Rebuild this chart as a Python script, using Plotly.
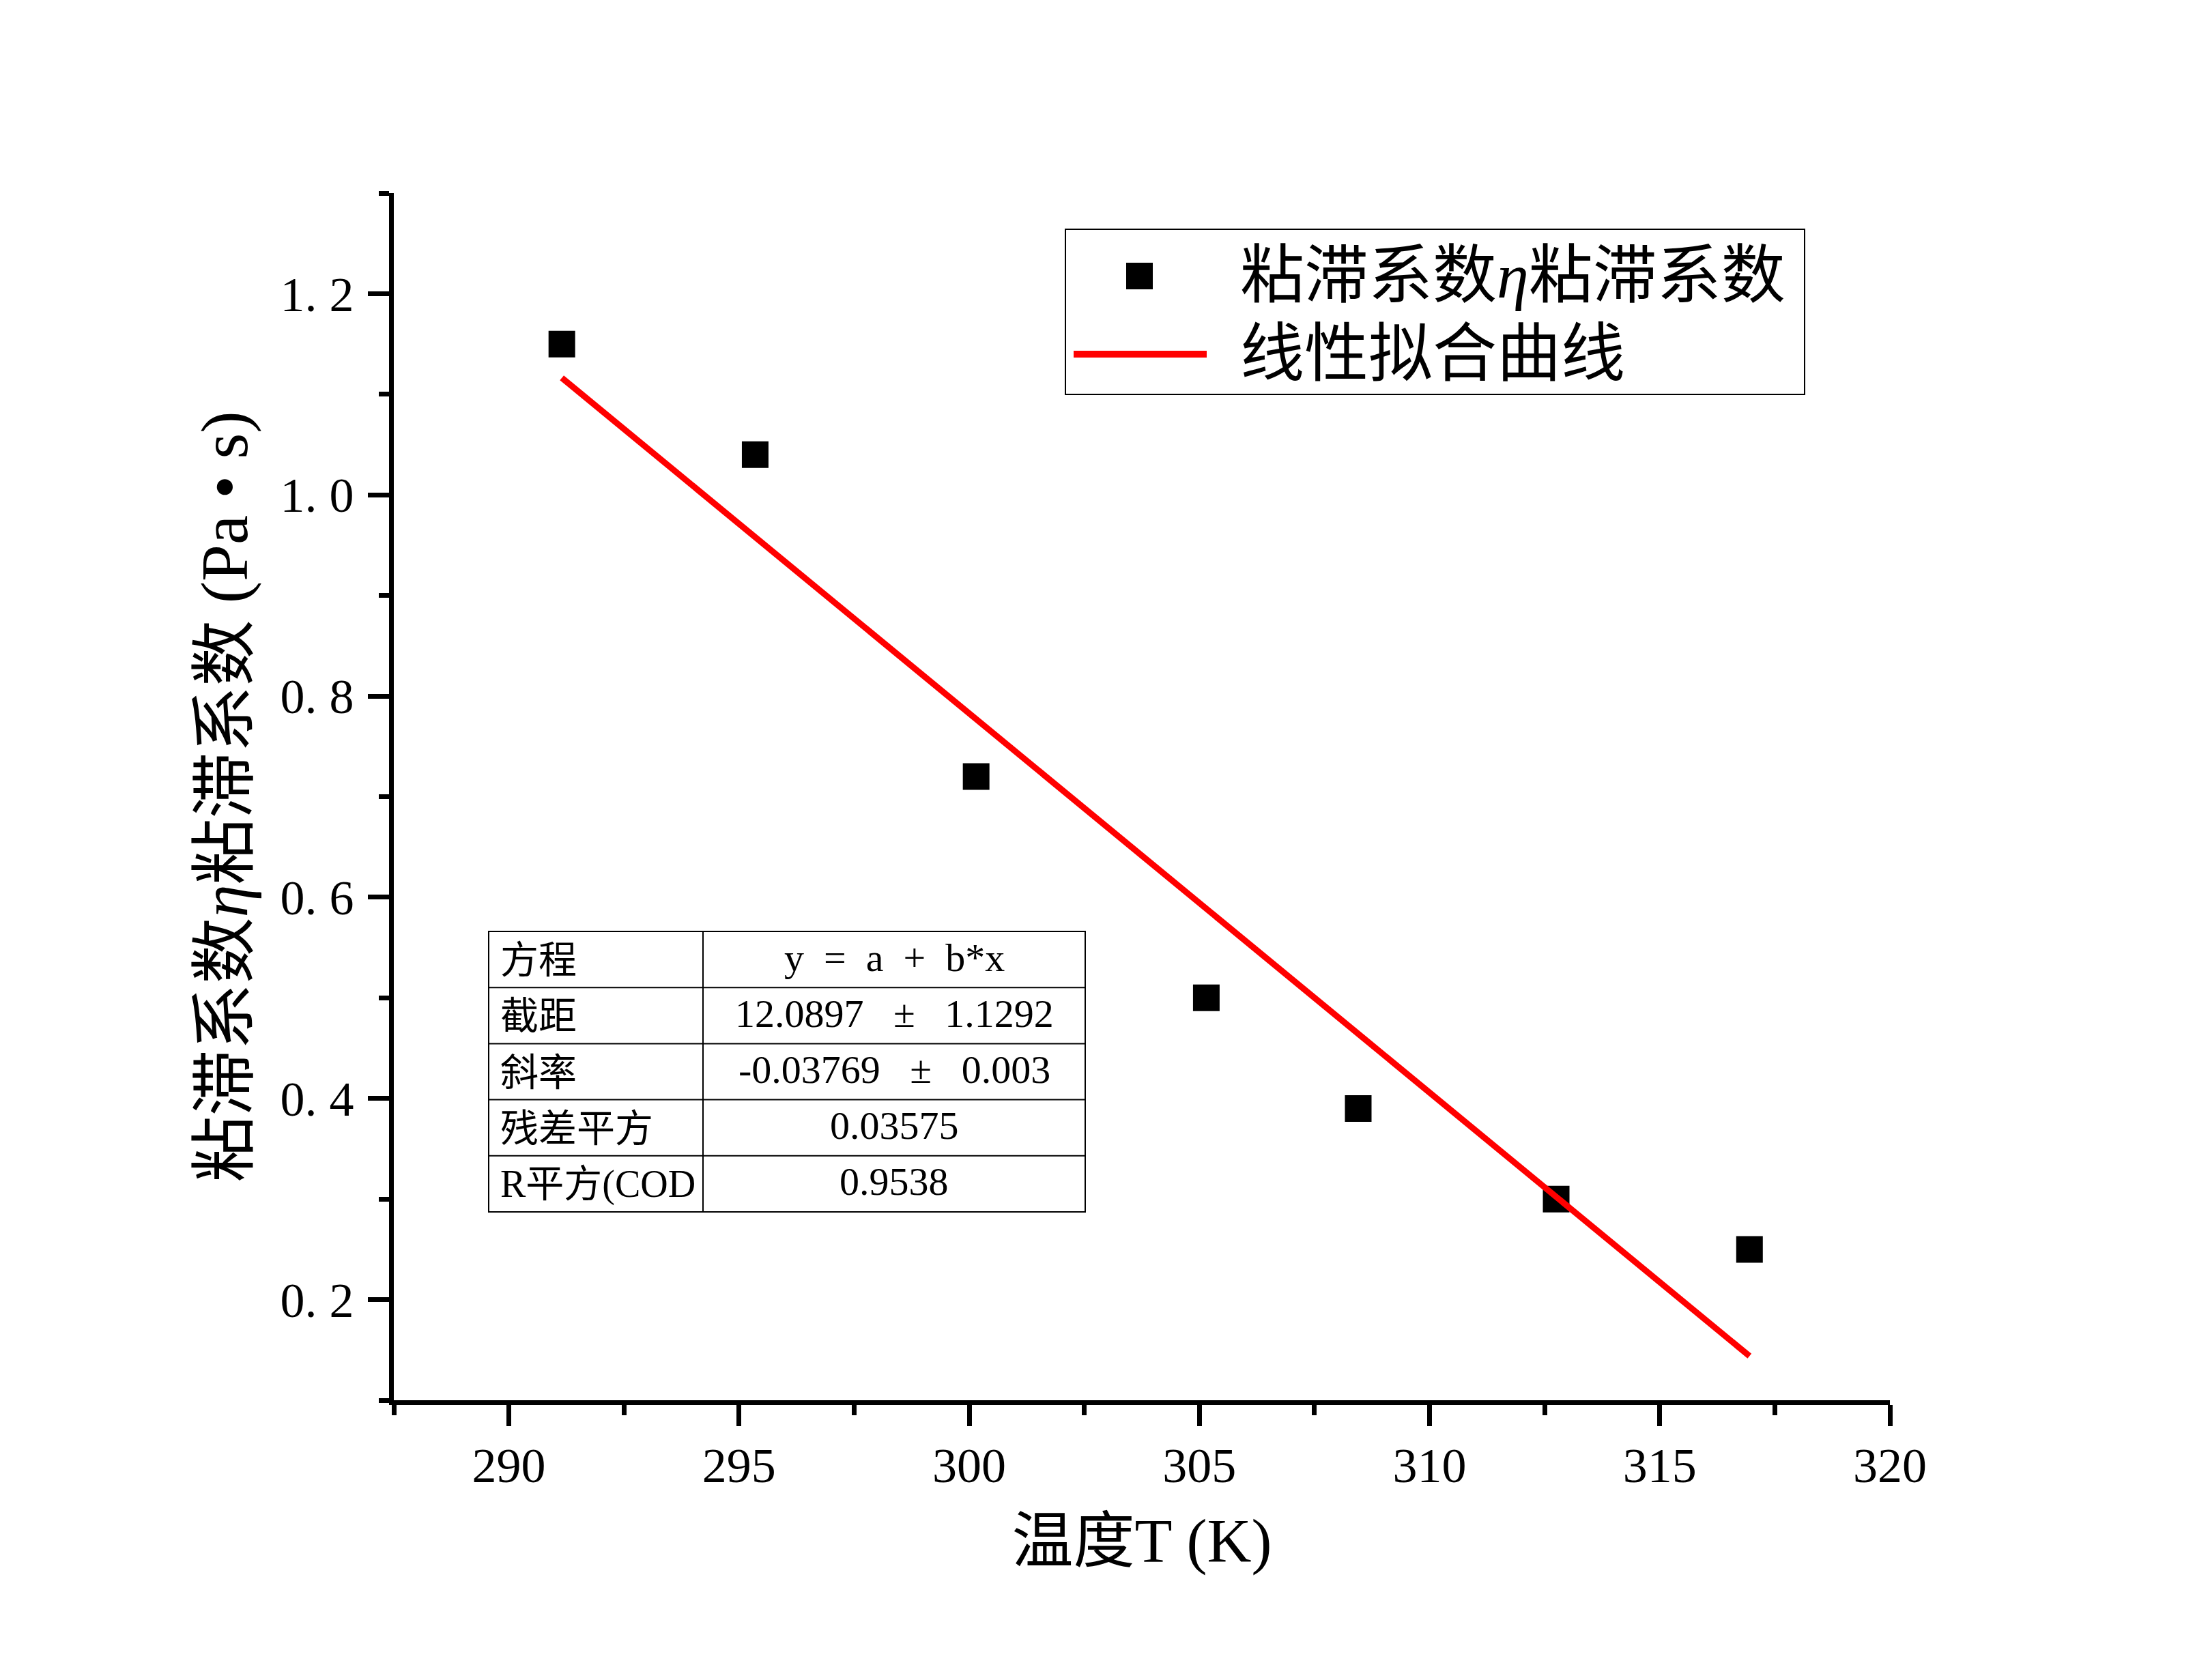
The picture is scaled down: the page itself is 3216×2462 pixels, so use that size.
import plotly.graph_objects as go

# ---------------- data ----------------
temperature_K = [291.15, 295.35, 300.15, 305.15, 308.45, 312.75, 316.95]
viscosity = [1.15, 1.04, 0.72, 0.50, 0.39, 0.30, 0.25]

fit_T = [291.15, 316.95]
fit_eta = [1.1163, 0.1439]

x_tick_vals = [290, 295, 300, 305, 310, 315, 320]
y_tick_vals = [0.2, 0.4, 0.6, 0.8, 1.0, 1.2]
y_tick_text = ["0. 2", "0. 4", "0. 6", "0. 8", "1. 0", "1. 2"]

table_labels = ["方程", "截距", "斜率", "残差平方", "R平方(COD"]
table_values = ["y = a + b*x", "12.0897 ± 1.1292", "-0.03769 ± 0.003", "0.03575", "0.9538"]

legend_labels = ["粘滞系数<i>η</i>粘滞系数", "线性拟合曲线"]
x_title = "温度T (K)"
y_title = "粘滞系数<i>η</i>粘滞系数 (Pa • s)"

# ---------------- layout geometry (pixels) ----------------
W, H = 3216, 2462
L, R, T, B = 577, 447, 283, 410
PW, PH = W - L - R, H - T - B

def px(X):
    return (X - L) / PW

def py(Y):
    return (H - B - Y) / PH

FONT = "Liberation Serif, Noto Sans CJK SC, serif"
NB = "\u00a0"

def spaced(s, n):
    # widen the gaps around operators, as in the original table rendering
    return s.replace(" ", NB * n)

fig = go.Figure()

fig.add_trace(go.Scatter(
    x=temperature_K, y=viscosity, mode="markers",
    marker=dict(symbol="square", size=39, color="black"),
    showlegend=False,
))
fig.add_trace(go.Scatter(
    x=fit_T, y=fit_eta, mode="lines",
    line=dict(color="#ff0000", width=9),
    showlegend=False,
))

axis_common = dict(
    showline=True, linewidth=7, linecolor="black",
    ticks="outside", ticklen=31, tickwidth=7, tickcolor="black",
    showgrid=False, zeroline=False,
    tickfont=dict(family=FONT, size=72, color="black"),
)

fig.update_xaxes(
    range=[287.5, 320], tickmode="array", tickvals=x_tick_vals,
    minor=dict(tickmode="linear", tick0=287.5, dtick=5, ticks="outside",
               ticklen=15, tickwidth=7, tickcolor="black", showgrid=False),
    title=dict(text=x_title, font=dict(family=FONT, size=90, color="black"), standoff=41),
    ticklabelstandoff=-4,
    **axis_common,
)
fig.update_yaxes(
    range=[0.1, 1.3], tickmode="array", tickvals=y_tick_vals, ticktext=y_tick_text,
    minor=dict(tickmode="linear", tick0=0.1, dtick=0.2, ticks="outside",
               ticklen=15, tickwidth=7, tickcolor="black", showgrid=False),
    title=dict(text=y_title, font=dict(family=FONT, size=97, color="black"), standoff=18),
    ticklabelstandoff=6,
    **axis_common,
)

shapes = []
annotations = []

# ---------------- legend (drawn manually) ----------------
shapes += [
    dict(type="rect", xref="paper", yref="paper",
         x0=px(1561), x1=px(2644), y0=py(578), y1=py(336),
         line=dict(color="black", width=2), fillcolor="white", layer="above"),
    dict(type="rect", xref="paper", yref="paper",
         x0=px(1650), x1=px(1689), y0=py(424), y1=py(385),
         line=dict(width=0), fillcolor="black", layer="above"),
    dict(type="line", xref="paper", yref="paper",
         x0=px(1573), x1=px(1768), y0=py(519), y1=py(519),
         line=dict(color="#ff0000", width=10), layer="above"),
]
for label, yc in zip(legend_labels, [404, 519]):
    annotations.append(dict(
        text=label, xref="paper", yref="paper", x=px(1815), y=py(yc),
        xanchor="left", yanchor="middle", showarrow=False,
        font=dict(family=FONT, size=94, color="black")))

# ---------------- parameter table ----------------
tx0, tsplit, tx1 = 716, 1030, 1590
ty0, ty1 = 1365, 1776
nrows = len(table_labels)
rh = (ty1 - ty0) / nrows
shapes.append(dict(type="rect", xref="paper", yref="paper",
                   x0=px(tx0), x1=px(tx1), y0=py(ty1), y1=py(ty0),
                   line=dict(color="black", width=2), fillcolor="white", layer="above"))
shapes.append(dict(type="line", xref="paper", yref="paper",
                   x0=px(tsplit), x1=px(tsplit), y0=py(ty1), y1=py(ty0),
                   line=dict(color="black", width=2), layer="above"))
for i in range(1, nrows):
    yl = ty0 + i * rh
    shapes.append(dict(type="line", xref="paper", yref="paper",
                       x0=px(tx0), x1=px(tx1), y0=py(yl), y1=py(yl),
                       line=dict(color="black", width=2), layer="above"))
for i, (lab, val) in enumerate(zip(table_labels, table_values)):
    yc = ty0 + (i + 0.5) * rh - 3
    annotations.append(dict(
        text=lab, xref="paper", yref="paper", x=px(tx0 + 15), y=py(yc + 4),
        xanchor="left", yanchor="middle", showarrow=False,
        font=dict(family=FONT, size=56, color="black")))
    annotations.append(dict(
        text=spaced(val, 2 if i == 0 else 3), xref="paper", yref="paper",
        x=px((tsplit + tx1) / 2), y=py(yc),
        xanchor="center", yanchor="middle", showarrow=False,
        font=dict(family=FONT, size=58, color="black")))

fig.update_layout(
    width=W, height=H,
    margin=dict(l=L, r=R, t=T, b=B, pad=0),
    paper_bgcolor="white", plot_bgcolor="white",
    showlegend=False,
    shapes=shapes, annotations=annotations,
    font=dict(family=FONT, color="black"),
)

fig.write_html("out.html")
